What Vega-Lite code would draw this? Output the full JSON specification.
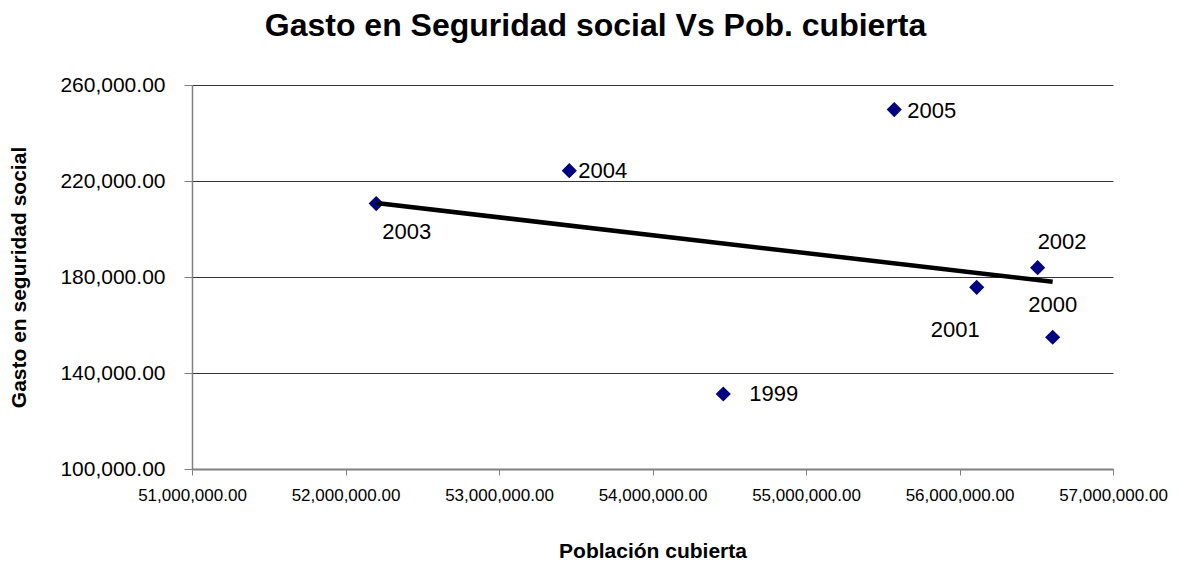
{
  "$schema": "https://vega.github.io/schema/vega-lite/v6.json",
  "autosize": "none",
  "width": 921,
  "height": 384,
  "padding": {"left": 192, "top": 85, "right": 66, "bottom": 95},
  "background": "white",
  "title": {
    "text": "Gasto en Seguridad social Vs Pob. cubierta",
    "font": "Liberation Sans",
    "fontSize": 32,
    "fontWeight": "bold",
    "color": "#000000",
    "anchor": "middle",
    "baseline": "alphabetic",
    "offset": 6,
    "dx": -57
  },
  "config": {
    "view": {"stroke": null},
    "font": "Liberation Sans",
    "axis": {
      "labelFont": "Liberation Sans",
      "titleFont": "Liberation Sans",
      "labelColor": "#000000",
      "titleColor": "#000000"
    }
  },
  "data": {
    "values": [
      {"anio": "1999", "poblacion": 54461000, "gasto": 131250},
      {"anio": "2000", "poblacion": 56607000, "gasto": 154900},
      {"anio": "2001", "poblacion": 56112000, "gasto": 175700},
      {"anio": "2002", "poblacion": 56509000, "gasto": 183900},
      {"anio": "2003", "poblacion": 52200000, "gasto": 210600},
      {"anio": "2004", "poblacion": 53458000, "gasto": 224300},
      {"anio": "2005", "poblacion": 55575000, "gasto": 249750}
    ]
  },
  "encoding": {
    "x": {
      "field": "poblacion",
      "type": "quantitative",
      "scale": {"domain": [51000000, 57000000], "nice": false, "zero": false},
      "axis": {
        "title": "Población cubierta",
        "titleFontSize": 21,
        "titleFontWeight": "bold",
        "titleY": 82,
        "titleBaseline": "middle",
        "values": [51000000, 52000000, 53000000, 54000000, 55000000, 56000000, 57000000],
        "format": ",.2f",
        "labelFontSize": 17,
        "labelPadding": 12,
        "labelOverlap": false,
        "labelFlush": false,
        "tickSize": 6,
        "tickColor": "#808080",
        "domainColor": "#808080",
        "domainWidth": 2,
        "grid": false
      }
    },
    "y": {
      "field": "gasto",
      "type": "quantitative",
      "scale": {"domain": [100000, 260000], "nice": false, "zero": false},
      "axis": {
        "title": "Gasto en seguridad social",
        "titleFontSize": 21,
        "titleFontWeight": "bold",
        "titleAngle": -90,
        "titleX": -173,
        "titleY": 192,
        "titleAlign": "center",
        "titleBaseline": "middle",
        "values": [100000, 140000, 180000, 220000, 260000],
        "format": ",.2f",
        "labelFontSize": 21,
        "labelPadding": 19,
        "labelOverlap": false,
        "labelFlush": false,
        "tickSize": 8,
        "tickColor": "#808080",
        "domainColor": "#808080",
        "domainWidth": 1.5,
        "grid": true,
        "gridColor": "#000000",
        "gridOpacity": 0.8,
        "gridWidth": 1
      }
    }
  },
  "layer": [
    {
      "mark": {"type": "point", "shape": "diamond", "filled": true, "size": 230, "color": "#000080", "opacity": 1}
    },
    {
      "transform": [{"regression": "gasto", "on": "poblacion"}],
      "mark": {"type": "line", "color": "#000000", "strokeWidth": 4.5},
      "encoding": {}
    },
    {
      "transform": [{"filter": "datum.anio == '2003'"}],
      "mark": {"type": "text", "fontSize": 22, "align": "left", "baseline": "middle", "dx": 6, "dy": 28, "color": "#000000"},
      "encoding": {"text": {"field": "anio"}}
    },
    {
      "transform": [{"filter": "datum.anio == '2004'"}],
      "mark": {"type": "text", "fontSize": 22, "align": "left", "baseline": "middle", "dx": 9, "dy": 0, "color": "#000000"},
      "encoding": {"text": {"field": "anio"}}
    },
    {
      "transform": [{"filter": "datum.anio == '2005'"}],
      "mark": {"type": "text", "fontSize": 22, "align": "left", "baseline": "middle", "dx": 13, "dy": 1, "color": "#000000"},
      "encoding": {"text": {"field": "anio"}}
    },
    {
      "transform": [{"filter": "datum.anio == '2002'"}],
      "mark": {"type": "text", "fontSize": 22, "align": "left", "baseline": "middle", "dx": 0, "dy": -26, "color": "#000000"},
      "encoding": {"text": {"field": "anio"}}
    },
    {
      "transform": [{"filter": "datum.anio == '2000'"}],
      "mark": {"type": "text", "fontSize": 22, "align": "center", "baseline": "middle", "dx": 0, "dy": -32, "color": "#000000"},
      "encoding": {"text": {"field": "anio"}}
    },
    {
      "transform": [{"filter": "datum.anio == '2001'"}],
      "mark": {"type": "text", "fontSize": 22, "align": "right", "baseline": "middle", "dx": 3, "dy": 43, "color": "#000000"},
      "encoding": {"text": {"field": "anio"}}
    },
    {
      "transform": [{"filter": "datum.anio == '1999'"}],
      "mark": {"type": "text", "fontSize": 22, "align": "left", "baseline": "middle", "dx": 26, "dy": 0, "color": "#000000"},
      "encoding": {"text": {"field": "anio"}}
    }
  ]
}
